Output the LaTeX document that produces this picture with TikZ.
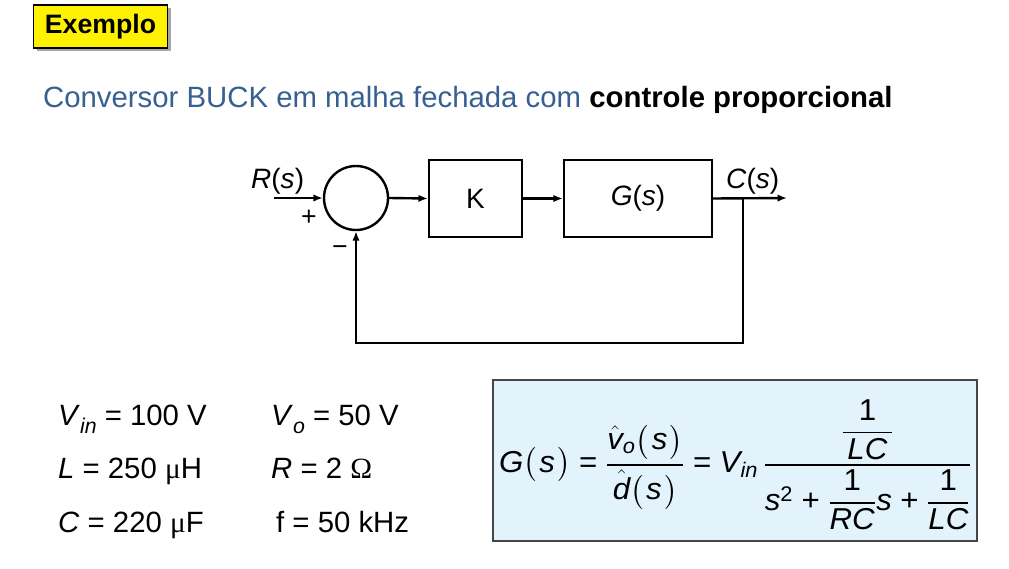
\documentclass[tikz,border=0pt]{standalone}
\usepackage{amsmath}
\usepackage{graphicx}
\usepackage{fontspec}
\setmainfont{Liberation Sans}
\newfontfamily\symserif{Liberation Serif}
\usetikzlibrary{arrows.meta,shadows}
\definecolor{titleblue}{RGB}{55,96,146}
\definecolor{formbg}{RGB}{226,243,252}
\definecolor{formborder}{RGB}{70,70,70}
\newcommand{\thkfrac}[2]{\genfrac{}{}{1.1pt}{0}{#1}{#2}}
\newcommand{\mypars}[1]{\bigl(\mkern1.5mu #1\mkern1.5mu\bigr)}
\begin{document}
\begin{tikzpicture}[x=0.75pt,y=-0.75pt,
  line width=1.8pt,
  arr/.style={-{Latex[length=7pt,width=5.5pt]}},
  blk/.style={draw, line width=1.8pt, minimum height=57.75pt, inner sep=0pt,
    font=\fontsize{21pt}{25pt}\selectfont},
  lbl/.style={inner sep=0pt, font=\fontsize{21pt}{25pt}\selectfont},
  sgn/.style={inner sep=0pt, font=\fontsize{20pt}{22pt}\selectfont},
  param/.style={inner sep=0pt, anchor=base west, font=\fontsize{22pt}{26pt}\selectfont},
  exbox/.style={draw, fill=yellow, line width=1.2pt, inner sep=0pt,
    minimum width=100.5pt, minimum height=32.25pt,
    font=\fontsize{20pt}{22pt}\selectfont\bfseries,
    drop shadow={shadow xshift=2.5pt, shadow yshift=-2.5pt, fill=black, opacity=0.35}},
  formbox/.style={draw=formborder, fill=formbg, line width=0.9pt, inner sep=0pt,
    minimum width=363pt, minimum height=120.75pt}
]
\fill[white] (0,0) rectangle (1009,568);
\useasboundingbox (0,0) rectangle (1009,568);

% header
\node[exbox] (ex) at (100.5,26.5) {Exemplo};
\node[inner sep=0pt, anchor=base west, font=\fontsize{22pt}{26pt}\selectfont] (title) at (42,107)
  {{\color{titleblue}Conversor BUCK em malha fechada com} \textbf{controle proporcional}};

% block diagram
\node[circle, draw, line width=1.8pt, minimum size=48pt, inner sep=0pt] (sum) at (356,198) {};
\node[blk, minimum width=69.75pt] (K) at (475.5,198.5) {K};
\node[blk, minimum width=111pt] (G) at (638,198.5) {\textit{G}(\textit{s})};
\coordinate (rin) at (274,198);
\coordinate (cout) at (787,198);
\coordinate (br) at (743,198);
\coordinate (bot) at (743,343);

\node[lbl, anchor=base west] (Rl) at (250,188) {\textit{R}(\textit{s})};
\node[lbl, anchor=base west] (Cl) at (725,188) {\textit{C}(\textit{s})};
\node[sgn] (plus) at (309,218) {+};
\node[sgn] (minus) at (340,251) {−};

\draw[arr] (rin) -- (sum.west);
\draw[arr] (sum.east) -- (K.west);
\draw[arr] (K.east) -- (G.west);
\draw[arr] (G.east) -- (cout);
\draw[arr] (br) -- (bot) -| (sum.south);

% parameters
\node[param] (p1) at (57,425) {\textit{V}\raisebox{-0.3em}{\fontsize{16pt}{16pt}\selectfont\textit{in}} = 100 V};
\node[param] (p2) at (270,425) {\textit{V}\raisebox{-0.3em}{\fontsize{16pt}{16pt}\selectfont\textit{o}} = 50 V};
\node[param] (p3) at (57,478) {\textit{L} = 250 {\symserif μ}H};
\node[param] (p4) at (270,478) {\textit{R} = 2 {\symserif Ω}};
\node[param] (p5) at (57,532) {\textit{C} = 220 {\symserif μ}F};
\node[param] (p6) at (275,532) {f = 50 kHz};

% formula
\node[formbox] (fb) at (735,460.5) {};
\node[inner sep=0pt, anchor=base west, font=\fontsize{22pt}{26pt}\selectfont] (formula) at (498,472)
{\scalebox{1.065}[1.03]{\medmuskip=5mu plus 2mu minus 2mu
$\displaystyle \textit{G}\mypars{\textit{s}} \mathrel{\text{=}}
\thkfrac{\hat{\textit{v}}_{\text{\textit{o}}}\mypars{\textit{s}}}{\hat{\textit{d}}\mypars{\textit{s}}}
\mathrel{\text{=}} \textit{V}_{\text{\textit{in}}}\,
\thkfrac{\thkfrac{\text{1}}{\,\textit{LC}\,}}{\textit{s}^{\text{2}} \mathbin{\text{+}} \thkfrac{\text{1}}{\textit{RC}}\textit{s} \mathbin{\text{+}} \thkfrac{\text{1}}{\textit{LC}}}$}};
\end{tikzpicture}
\end{document}
